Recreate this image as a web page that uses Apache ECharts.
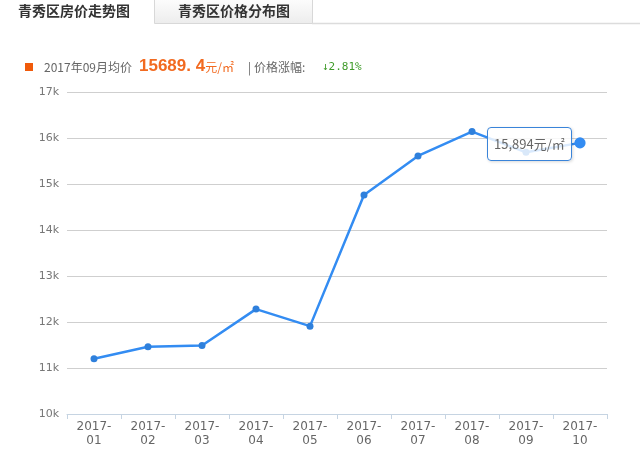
<!DOCTYPE html>
<html>
<head>
<meta charset="utf-8">
<script src="https://cdn.jsdelivr.net/npm/echarts@6/dist/echarts.min.js"></script>
<style>
html,body{margin:0;padding:0;background:#fff;}
#chart{width:640px;height:463px;}
</style>
</head>
<body>
<div id="chart"></div>
<script>
var categories = ['2017-01','2017-02','2017-03','2017-04','2017-05','2017-06','2017-07','2017-08','2017-09','2017-10'];
var prices = [11200, 11460, 11490, 12280, 11910, 14760, 15610, 16140, 15689, 15894];
var yTicks = [10000, 11000, 12000, 13000, 14000, 15000, 16000, 17000];
var tabTitles = ['青秀区房价走势图', '青秀区价格分布图'];
var avgLabel = '2017年09月均价';
var avgValue = '15689. 4';
var changeLabel = '| 价格涨幅:';
var changeValue = '↓2.81%';
var highlightIndex = 9;

var chart = echarts.init(document.getElementById('chart'), null, {renderer: 'canvas'});
var cjk = '"Noto Sans CJK SC", "DejaVu Sans", sans-serif';
var option = {
  animation: false,
  backgroundColor: '#fff',
  grid: {left: 67, right: 33, top: 92, bottom: 49, containLabel: false},
  tooltip: {
    trigger: 'item',
    alwaysShowContent: true,
    triggerOn: 'none',
    backgroundColor: 'rgba(255,255,255,0.82)',
    borderColor: '#3a84d9',
    borderWidth: 1,
    borderRadius: 4,
    padding: [6, 6],
    extraCssText: 'box-shadow:1px 1px 3px rgba(0,0,0,0.15);',
    textStyle: {color: '#666', fontSize: 13, fontFamily: cjk},
    position: function () { return [487, 127]; },
    formatter: function (p) {
      return echarts.format.addCommas(p.value) + '元/㎡';
    }
  },
  xAxis: {
    type: 'category',
    data: categories,
    boundaryGap: true,
    axisLine: {lineStyle: {color: '#c6d4e2', width: 1}},
    axisTick: {show: true, length: 5, lineStyle: {color: '#c6d4e2'}},
    axisLabel: {
      color: '#666', fontSize: 12, fontFamily: 'DejaVu Sans', lineHeight: 14, margin: 6,
      formatter: function (v) { var s = v.split('-'); return s[0] + '-\n' + s[1]; }
    },
    splitLine: {show: false}
  },
  yAxis: {
    type: 'value',
    min: yTicks[0],
    max: yTicks[yTicks.length - 1],
    interval: 1000,
    axisLine: {show: false},
    axisTick: {show: false},
    axisLabel: {
      color: '#777', fontSize: 11, fontFamily: 'DejaVu Sans', margin: 8,
      formatter: function (v) { return (v / 1000) + 'k'; }
    },
    splitLine: {lineStyle: {color: '#cfcfcf', width: 1}}
  },
  series: [{
    type: 'line',
    data: prices,
    symbol: 'circle',
    symbolSize: 7,
    lineStyle: {color: '#2f80dc', width: 2.5},
    itemStyle: {color: '#2f80dc'},
    emphasis: {scale: 1.6, lineStyle: {width: 2.5}},
    z: 3
  }],
  graphic: [
    {type: 'text', left: 18, top: 4, style: {text: tabTitles[0], font: 'bold 14px ' + cjk, fill: '#333'}},
    {type: 'rect', shape: {x: 154.5, y: -1, width: 158, height: 24.5},
      style: {fill: new echarts.graphic.LinearGradient(0, 0, 0, 1, [{offset: 0, color: '#fdfdfd'}, {offset: 1, color: '#ececec'}]), stroke: '#d8d8d8', lineWidth: 1}},
    {type: 'text', left: 178, top: 4, style: {text: tabTitles[1], font: 'bold 14px ' + cjk, fill: '#333'}},
    {type: 'line', shape: {x1: 312, y1: 23.5, x2: 640, y2: 23.5}, style: {stroke: '#dcdcdc', lineWidth: 1.5}},
    {type: 'rect', shape: {x: 25, y: 63, width: 8, height: 8}, style: {fill: '#f05a0a'}},
    {type: 'text', x: 44, y: 67, style: {text: avgLabel, font: '12px ' + cjk, fill: '#666', textVerticalAlign: 'middle'}},
    {type: 'text', x: 139, y: 66, style: {
      text: '{v|' + avgValue + '}{u|元/㎡}',
      textVerticalAlign: 'middle',
      rich: {
        v: {fontSize: 17, fontWeight: 'bold', fontFamily: 'Liberation Sans', fill: '#f26a20'},
        u: {fontSize: 12, fontFamily: 'Noto Sans CJK SC', fill: '#f26a20', padding: [3, 0, 0, 0]}
      }
    }},
    {type: 'text', x: 248, y: 67, style: {text: changeLabel, font: '12px ' + cjk, fill: '#666', textVerticalAlign: 'middle'}},
    {type: 'text', x: 322, y: 67, style: {text: changeValue, font: '11px "DejaVu Sans Mono", monospace', fill: '#3f9b2a', textVerticalAlign: 'middle'}}
  ]
};
chart.setOption(option);
chart.dispatchAction({type: 'highlight', seriesIndex: 0, dataIndex: highlightIndex});
chart.dispatchAction({type: 'showTip', seriesIndex: 0, dataIndex: highlightIndex});
</script>
</body>
</html>
